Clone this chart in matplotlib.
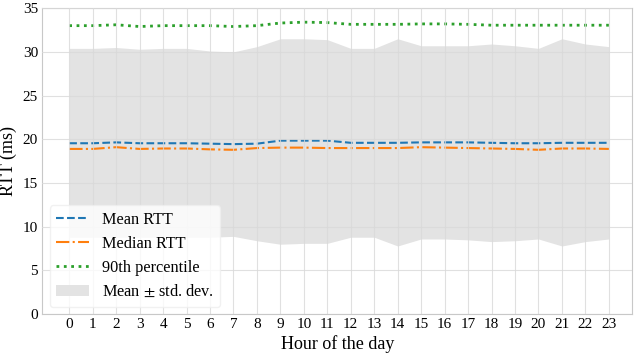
import numpy as np
import matplotlib
matplotlib.use("Agg")
import matplotlib.pyplot as plt

plt.rcParams['font.family'] = ['Liberation Serif', 'DejaVu Serif']
plt.rcParams['mathtext.fontset'] = 'stix'

# valeurs
heures = list(range(24))
moyenne = [19.55, 19.55, 19.65, 19.55, 19.55, 19.55, 19.5, 19.45, 19.5, 19.85, 19.85, 19.85,
           19.6, 19.6, 19.6, 19.65, 19.65, 19.65, 19.6, 19.55, 19.55, 19.6, 19.6, 19.6]
mediane = [18.9, 18.9, 19.1, 18.9, 18.95, 18.95, 18.85, 18.8, 19.0, 19.05, 19.05, 19.0,
           19.0, 19.0, 19.0, 19.1, 19.05, 19.0, 18.95, 18.9, 18.8, 18.95, 18.95, 18.9]
p90 = [33.0, 33.0, 33.1, 32.9, 33.0, 33.0, 33.0, 32.9, 33.0, 33.3, 33.4, 33.35,
       33.15, 33.15, 33.15, 33.2, 33.2, 33.15, 33.05, 33.05, 33.05, 33.05, 33.05, 33.05]
haut = [30.4, 30.4, 30.5, 30.3, 30.4, 30.4, 30.1, 30.0, 30.6, 31.5, 31.5, 31.4,
        30.4, 30.4, 31.5, 30.7, 30.7, 30.7, 30.9, 30.7, 30.4, 31.5, 30.9, 30.6]
bas = [8.8, 8.8, 8.8, 8.8, 8.8, 8.8, 8.8, 8.9, 8.4, 8.0, 8.1, 8.1,
       8.8, 8.8, 7.8, 8.6, 8.6, 8.5, 8.3, 8.4, 8.6, 7.8, 8.3, 8.6]

fig = plt.figure(figsize=(6.4, 3.55), dpi=100)
ax = fig.add_axes([0.066, 0.115, 0.922, 0.862])

ax.fill_between(heures, bas, haut, color='#e3e3e3', linewidth=0, label=r'Mean $\pm$ std. dev.')
ax.plot(heures, moyenne, '--', color='#1f77b4', linewidth=1.5, label='Mean RTT')
ax.plot(heures, mediane, '-.', color='#ff7f0e', linewidth=1.5, label='Median RTT')
ax.plot(heures, p90, ':', color='#2ca02c', linewidth=2, label='90th percentile')

ax.set_xlim(-1.15, 24)
ax.set_ylim(0, 35)
ax.set_xticks(heures)
ax.set_yticks(range(0, 36, 5))
ax.tick_params(labelsize=11, length=0, pad=3)
ax.grid(True, color='#d9d9d9', linewidth=0.8, alpha=0.8)
ax.set_axisbelow(False)
for s in ax.spines.values():
    s.set_color('#c8c8c8')
    s.set_linewidth(0.8)

ax.set_xlabel('Hour of the day', fontsize=13, labelpad=3)
ax.set_ylabel('RTT (ms)', fontsize=13)
ax.yaxis.set_label_coords(-0.043, 0.5)

h, l = ax.get_legend_handles_labels()
ordre = [1, 2, 3, 0]
leg = ax.legend([h[i] for i in ordre], [l[i] for i in ordre], loc='lower left',
                fontsize=11.7, frameon=True, handlelength=2.0, borderaxespad=0.45,
                labelspacing=0.5)
leg.get_frame().set_facecolor('white')
leg.get_frame().set_edgecolor('#eeeeee')
leg.get_frame().set_alpha(0.8)

fig.savefig('out.png', dpi=100)
